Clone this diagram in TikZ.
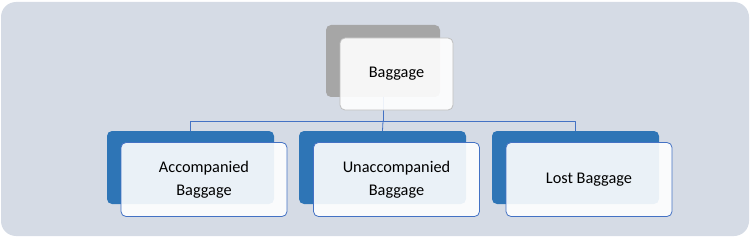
\documentclass[tikz,border=0pt]{standalone}
\usepackage{fontspec}
\setmainfont{Carlito}
\definecolor{bgfill}{HTML}{D5DBE5}
\definecolor{grayback}{HTML}{A6A6A6}
\definecolor{blueback}{HTML}{2E75B6}
\definecolor{blueline}{HTML}{4472C4}
\definecolor{grayline}{HTML}{BFBFBF}
\tikzset{
  every picture/.style={line join=round, line cap=round},
  backbox/.style={rounded corners=5pt, inner sep=0pt, minimum width=167pt, minimum height=73pt, fill=blueback},
  frontbox/.style={rounded corners=5pt, inner sep=0pt, minimum width=166pt, minimum height=74pt,
    fill=white, fill opacity=0.9, text opacity=1, draw=blueline, line width=0.8pt,
    align=center, font=\fontsize{16.3}{23}\selectfont},
  conn/.style={draw=blueline, line width=0.8pt},
}
\begin{document}
\begin{tikzpicture}[x=1pt,y=-1pt]
\useasboundingbox (0,0) rectangle (750,238);
\fill[bgfill, rounded corners=15pt] (1,2) rectangle (749,236);
% back boxes
\node[backbox, fill=grayback, minimum width=114pt, minimum height=72pt] (top) at (383,61) {};
\node[backbox] (acc) at (190.5,167.5) {};
\node[backbox] (unacc) at (382.5,167.5) {};
\node[backbox] (lost) at (575.5,167.5) {};
% connectors
\coordinate (bus) at (383,121);
\draw[conn] (top.south) -- (bus);
\draw[conn] (bus) -| (acc.north);
\draw[conn] (bus) -| (lost.north);
\draw[conn] (bus) -- (unacc.north);
% front boxes
\node[frontbox, draw=grayline, minimum width=113pt, minimum height=72pt] (topf) at (396.5,74) {Baggage};
\node[frontbox] (accf) at (204,179.5) {Accompanied\\Baggage};
\node[frontbox] (unaccf) at (396.5,179.5) {Unaccompanied\\Baggage};
\node[frontbox] (lostf) at (589,179.5) {Lost Baggage};
\end{tikzpicture}
\end{document}
